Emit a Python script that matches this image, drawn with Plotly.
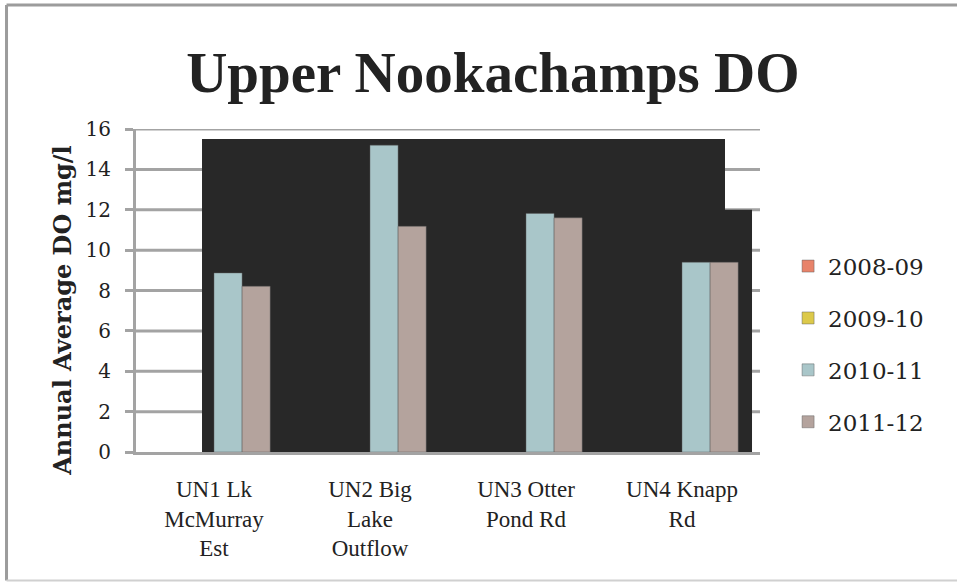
import plotly.graph_objects as go

# Sites and annual average dissolved oxygen (mg/l) per season
sites = ["UN1 Lk<br>McMurray<br>Est", "UN2 Big<br>Lake<br>Outflow", "UN3 Otter<br>Pond Rd", "UN4 Knapp<br>Rd"]
seasons = ["2008-09", "2009-10", "2010-11", "2011-12"]
do_2008_09 = [None, None, None, None]
do_2009_10 = [None, None, None, None]
do_2010_11 = [8.87, 15.2, 11.82, 9.4]
do_2011_12 = [8.21, 11.18, 11.6, 9.4]
y_ticks = [0, 2, 4, 6, 8, 10, 12, 14, 16]

series = [do_2008_09, do_2009_10, do_2010_11, do_2011_12]
colors = ["#e8836a", "#dcc94a", "#a9c6c9", "#b4a39d"]

SERIF = "Liberation Serif, Times New Roman, serif"
NUMS = "DejaVu Serif, serif"
TEXT = "#222222"
GRID = "#a3a3a3"

fig = go.Figure()
for name, vals, col in zip(seasons, series, colors):
    fig.add_trace(go.Bar(
        x=sites, y=vals, name=name, legendgroup=name,
        marker=dict(color=col, line=dict(color="rgba(90,90,90,0.45)", width=1)),
    ))

fig.update_layout(
    width=957, height=582,
    margin=dict(l=136, r=197, t=129, b=130),
    paper_bgcolor="white", plot_bgcolor="white",
    barmode="group", bargap=0.28, bargroupgap=0,
    showlegend=True,
    title=dict(text="<b>Upper Nookachamps DO</b>", x=0.515, xanchor="center",
               y=0.877, yanchor="middle",
               font=dict(family=SERIF, size=57, color=TEXT)),
    legend=dict(x=1.045, y=0.334, xanchor="left", yanchor="middle",
                font=dict(family=NUMS, size=23, color=TEXT),
                tracegroupgap=19, bgcolor="rgba(0,0,0,0)"),
    xaxis=dict(showgrid=False, showline=True, linecolor=GRID, linewidth=3,
               ticks="", ticklabelstandoff=14,
               tickfont=dict(family=SERIF, size=23, color=TEXT)),
    yaxis=dict(range=[0, 16], tickvals=y_ticks, showgrid=False, zeroline=False,
               showline=True, linecolor=GRID, linewidth=3,
               ticks="outside", ticklen=8, tickwidth=3, tickcolor=GRID,
               ticklabelstandoff=10,
               tickfont=dict(family=NUMS, size=20, color=TEXT)),
)

# Axis title, set as a rotated annotation so it can sit slightly low
fig.add_annotation(text="<b>Annual Average DO mg/l</b>", xref="paper", yref="paper",
                   x=-0.117, y=0.44, xanchor="center", yanchor="middle", textangle=-90,
                   showarrow=False, font=dict(family=NUMS, size=24, color=TEXT))

# Horizontal gridlines at each tick, kept beneath the dark backdrop
for v in y_ticks[1:]:
    fig.add_shape(type="line", xref="paper", yref="y", x0=0, x1=1, y0=v, y1=v,
                  layer="below", line=dict(color=GRID, width=3))

# Dark backdrop behind the bars (stepped at the right edge)
fig.add_shape(type="path", xref="paper", yref="y", layer="below",
              path="M 0.1058,0 L 0.1058,15.5 L 0.9439,15.5 L 0.9439,12 L 0.9872,12 L 0.9872,0 Z",
              fillcolor="#282828", line=dict(width=0))

# Frame around the chart
fig.add_shape(type="line", xref="paper", yref="paper", x0=-0.2075, x1=1.33, y0=1.384, y1=1.384,
              line=dict(color="#9c9c9c", width=3))
fig.add_shape(type="line", xref="paper", yref="paper", x0=-0.2075, x1=-0.2075, y0=1.384, y1=-0.398,
              line=dict(color="#9c9c9c", width=3))
fig.add_shape(type="line", xref="paper", yref="paper", x0=-0.2075, x1=1.33, y0=-0.398, y1=-0.398,
              line=dict(color="#d0d0d0", width=2))

fig.write_html("out.html")
